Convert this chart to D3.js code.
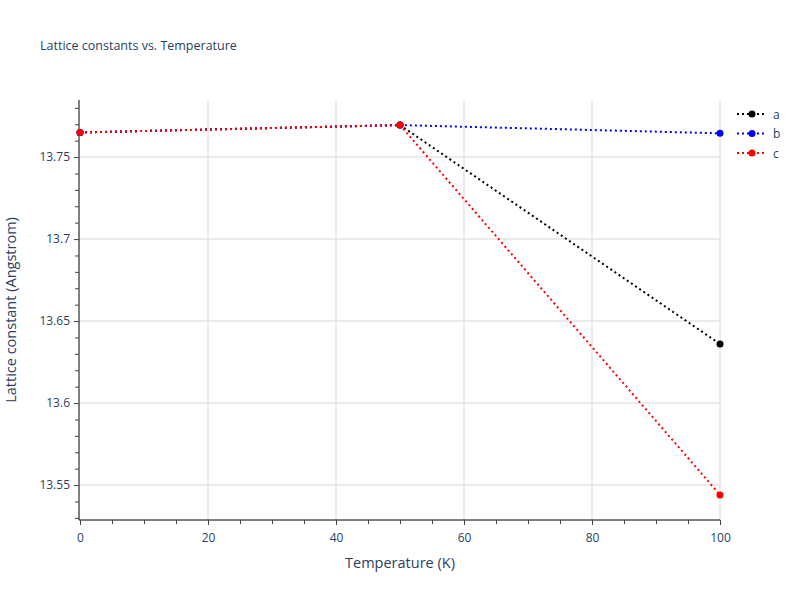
<!DOCTYPE html>
<html><head><meta charset="utf-8">
<script src="https://cdn.jsdelivr.net/npm/d3@7"></script>
<style>body{margin:0;background:#fff;font-family:"Open Sans",sans-serif;}</style>
</head><body><svg id="c" width="800" height="600"></svg>
<script>
// Lattice constants vs temperature, three dotted series.
const temps = [0, 50, 100];
const seriesNames = ['a', 'b', 'c'];
const seriesColors = ['#000000', '#0000ff', '#ff0000'];
const valuesA = [13.7650, 13.7695, 13.6360];
const valuesB = [13.7650, 13.7695, 13.7645];
const valuesC = [13.7650, 13.7695, 13.5440];
const xTicks = [0, 20, 40, 60, 80, 100];
const yTicks = [13.55, 13.6, 13.65, 13.7, 13.75];

const svg = d3.select('#c');
const L = 80, R = 720, T = 100, B = 520;
const x = d3.scaleLinear().domain([0, 100]).range([L, R]);
const y = d3.scaleLinear().domain([13.5287, 13.7848]).range([B, T]);
const txt = '#2a3f5f';

svg.append('text').attr('x', 40).attr('y', 50).attr('font-size', 12.5).attr('fill', txt)
  .text('Lattice constants vs. Temperature');

// grid
svg.append('g').selectAll('line').data(xTicks.slice(1)).join('line')
  .attr('x1', d => x(d)).attr('x2', d => x(d)).attr('y1', T).attr('y2', B)
  .attr('stroke', '#e5e5e5').attr('stroke-width', 1.5);
svg.append('g').selectAll('line').data(yTicks).join('line')
  .attr('x1', L).attr('x2', R).attr('y1', d => y(d)).attr('y2', d => y(d))
  .attr('stroke', '#e5e5e5').attr('stroke-width', 1.5);

// axes
const xa = svg.append('g').attr('transform', `translate(0,${B})`)
  .call(d3.axisBottom(x).tickValues(xTicks).tickSize(5).tickPadding(8).tickSizeOuter(0));
const xm = svg.append('g').attr('transform', `translate(0,${B})`)
  .call(d3.axisBottom(x).tickValues(d3.range(5, 100, 5).filter(v => v % 20)).tickSize(4).tickFormat('').tickSizeOuter(0));
const ya = svg.append('g').attr('transform', `translate(${L - 1},0)`)
  .call(d3.axisLeft(y).tickValues(yTicks).tickFormat(d => d3.format('')(+d.toFixed(2))).tickSize(5).tickPadding(4).tickSizeOuter(0));
const ym = svg.append('g').attr('transform', `translate(${L - 1},0)`)
  .call(d3.axisLeft(y).tickValues(d3.range(13.53, 13.785, 0.01).filter(v => Math.abs(v * 20 - Math.round(v * 20)) > 0.01)).tickSize(4).tickFormat('').tickSizeOuter(0));
[xa, xm, ya, ym].forEach(g => {
  g.selectAll('path').attr('stroke', '#000');
  g.selectAll('line').attr('stroke', '#444');
  g.selectAll('text').attr('fill', txt).attr('font-size', 12).attr('font-family', '"Open Sans",sans-serif');
});
xm.select('path').remove(); ym.select('path').remove();
ya.select('path').attr('d', `M0,${B}V${T}`);
xa.select('path').attr('d', `M${L - 1},0H${R}`);

svg.append('text').attr('x', (L + R) / 2).attr('y', 568).attr('text-anchor', 'middle')
  .attr('font-size', 14.5).attr('fill', txt).text('Temperature (K)');
svg.append('text').attr('transform', `translate(16,${(T + B) / 2}) rotate(-90)`).attr('text-anchor', 'middle')
  .attr('font-size', 14.5).attr('fill', txt).text('Lattice constant (Angstrom)');

const data = [valuesA, valuesB, valuesC];
const line = d3.line().x((d, i) => x(temps[i])).y(d => y(d));
const plot = svg.append('g');
data.forEach((vals, k) => {
  plot.append('path').attr('d', line(vals)).attr('fill', 'none')
    .attr('stroke', seriesColors[k]).attr('stroke-width', 2).attr('stroke-dasharray', '2,3');
  plot.selectAll(null).data(vals).join('circle')
    .attr('cx', (d, i) => x(temps[i])).attr('cy', d => y(d)).attr('r', 3.5)
    .attr('fill', seriesColors[k]);
});

// legend
const lg = svg.append('g').attr('transform', 'translate(737,114)');
seriesNames.forEach((n, k) => {
  const g = lg.append('g').attr('transform', `translate(0,${k * 19.5})`);
  g.append('line').attr('x1', 0).attr('x2', 30).attr('stroke', seriesColors[k])
    .attr('stroke-width', 2).attr('stroke-dasharray', '2,3');
  g.append('circle').attr('cx', 15).attr('r', 3.5).attr('fill', seriesColors[k]);
  g.append('text').attr('x', 36).attr('y', 4.5).attr('font-size', 12).attr('fill', txt).text(n);
});
</script></body></html>
